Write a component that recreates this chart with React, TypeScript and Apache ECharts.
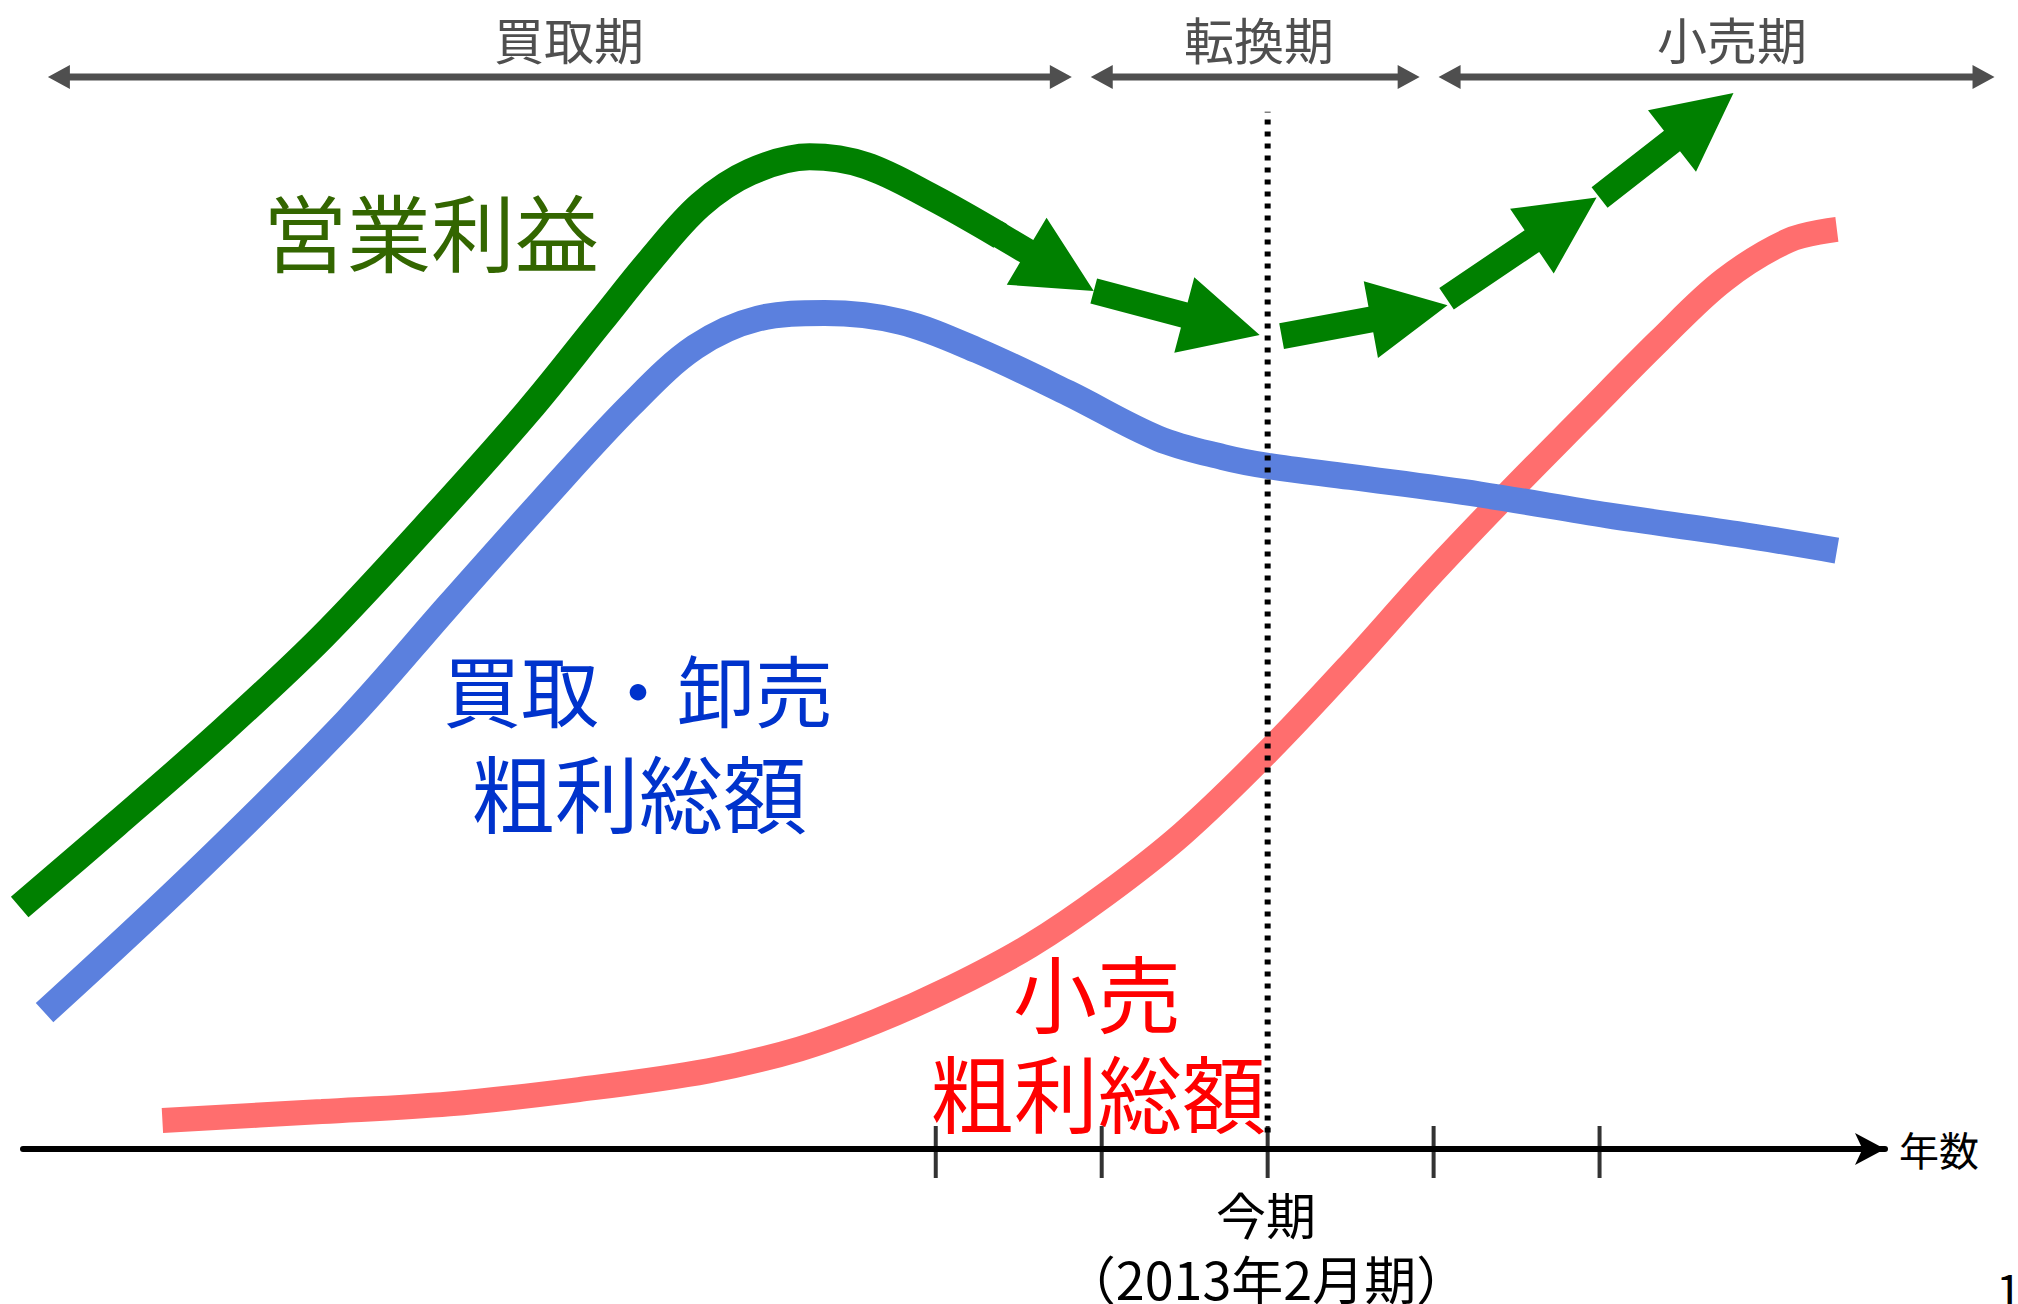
import React, { useEffect, useRef } from "react";
import * as echarts from "echarts";

// x: years relative to current term (今期 = 0), y: relative profit level (0-100)
const operatingProfit: number[][] = [
  [-7.52, 22.0], [-6.94, 29.5], [-6.32, 37.7], [-5.7, 46.5], [-5.08, 56.5],
  [-4.46, 67.0], [-4.02, 75.2], [-3.72, 80.8], [-3.42, 85.8], [-3.12, 88.8],
  [-2.76, 90.2], [-2.42, 89.4], [-2.02, 86.5], [-1.61, 83.0],
];
const wholesaleGross: number[][] = [
  [-7.37, 12.4], [-6.48, 24.9], [-5.55, 38.9], [-4.93, 49.5], [-4.38, 58.8],
  [-3.84, 67.6], [-3.45, 72.9], [-3.07, 75.5], [-2.67, 76.0], [-2.21, 75.2],
  [-1.75, 72.6], [-1.2, 68.7], [-0.66, 64.6], [-0.27, 62.9], [0, 62.1],
  [0.5, 61.1], [1.28, 59.5], [2.05, 57.6], [2.83, 55.9], [3.43, 54.4],
];
const retailGross: number[][] = [
  [-6.66, 2.6], [-5.7, 3.4], [-4.93, 4.1], [-4.15, 5.4], [-3.37, 7.1],
  [-2.82, 9.1], [-2.36, 11.6], [-1.9, 14.7], [-1.43, 18.5], [-0.98, 23.1],
  [-0.51, 28.7], [0, 36.1], [0.5, 44.1], [0.97, 52.0], [1.43, 59.3],
  [1.9, 66.5], [2.36, 73.5], [2.75, 79.0], [3.14, 82.6], [3.43, 83.6],
];
// trend arrows: [x start, y start, x tip, y tip]
const trendArrows: number[][] = [
  [-1.64, 83.3, -1.048, 78.0],
  [-1.048, 78.0, -0.048, 74.0],
  [0.084, 73.9, 1.084, 76.7],
  [1.078, 77.3, 1.982, 86.5],
  [2.0, 86.5, 2.807, 96.0],
];
// periods: [x start, x end, y]
const periodNames = ["買取期", "転換期", "小売期"];
const periodRanges: number[][] = [
  [-7.35, -1.18, 97.45],
  [-1.066, 0.916, 97.45],
  [1.03, 4.38, 97.45],
];
const tickYears = [-2, -1, 0, 1, 2];
const currentTerm = 0;
const dottedRange = [1.5, 94.3];

const FONT = "'Noto Sans CJK JP', 'Noto Sans', sans-serif";

function blockArrow(params: any, api: any) {
  const p1 = api.coord([api.value(0), api.value(1)]);
  const p2 = api.coord([api.value(2), api.value(3)]);
  const dx = p2[0] - p1[0];
  const dy = p2[1] - p1[1];
  const len = Math.hypot(dx, dy);
  const ux = dx / len;
  const uy = dy / len;
  const nx = -uy;
  const ny = ux;
  const L = 78, W = 78, S = 26;
  const bx = p2[0] - ux * L;
  const by = p2[1] - uy * L;
  const pts = [
    [p1[0] + (nx * S) / 2, p1[1] + (ny * S) / 2],
    [bx + (nx * S) / 2, by + (ny * S) / 2],
    [bx + (nx * W) / 2, by + (ny * W) / 2],
    [p2[0], p2[1]],
    [bx - (nx * W) / 2, by - (ny * W) / 2],
    [bx - (nx * S) / 2, by - (ny * S) / 2],
    [p1[0] - (nx * S) / 2, p1[1] - (ny * S) / 2],
  ];
  return { type: "polygon", shape: { points: pts }, style: { fill: "#008000" } };
}

function periodArrow(params: any, api: any) {
  const a = api.coord([api.value(0), api.value(2)]);
  const b = api.coord([api.value(1), api.value(2)]);
  const y = a[1];
  const H = 22, W = 24, S = 7;
  const pts = [
    [a[0], y], [a[0] + H, y - W / 2], [a[0] + H, y - S / 2], [b[0] - H, y - S / 2],
    [b[0] - H, y - W / 2], [b[0], y], [b[0] - H, y + W / 2], [b[0] - H, y + S / 2],
    [a[0] + H, y + S / 2], [a[0] + H, y + W / 2],
  ];
  return { type: "polygon", shape: { points: pts }, style: { fill: "#4f4f4f" } };
}

export default function App() {
  const ref = useRef<HTMLDivElement>(null);
  useEffect(() => {
    if (!ref.current) return;
    const chart = echarts.init(ref.current, undefined, { renderer: "svg" });
    const bigText = (text: string, x: number, y: number, color: string, size = 84) => ({
      type: "text",
      x,
      y,
      style: {
        text,
        fill: color,
        fontSize: size,
        fontFamily: FONT,
        align: "center",
        verticalAlign: "middle",
      },
    });
    const periodCenters = [569, 1259, 1732];
    chart.setOption({
      animation: false,
      backgroundColor: "#ffffff",
      textStyle: { fontFamily: FONT },
      grid: { left: 23, right: 133, top: 49, bottom: 155 },
      xAxis: {
        type: "value",
        min: -7.5,
        max: 3.72,
        name: "年数",
        nameLocation: "end",
        nameGap: 14,
        nameTextStyle: { fontSize: 40, color: "#000", fontFamily: FONT, verticalAlign: "middle" },
        axisLine: {
          show: true,
          onZero: false,
          symbol: ["none", "arrow"],
          symbolSize: [24, 30],
          lineStyle: { color: "#000", width: 6 },
        },
        axisTick: { show: false },
        axisLabel: { show: false },
        splitLine: { show: false },
      },
      yAxis: { type: "value", min: 0, max: 100, show: false },
      series: [
        {
          type: "line",
          data: retailGross,
          smooth: 0.35,
          symbol: "none",
          clip: false,
          lineStyle: { color: "#ff6e6e", width: 25, cap: "butt" },
          z: 2,
        },
        {
          type: "line",
          data: wholesaleGross,
          smooth: 0.35,
          symbol: "none",
          clip: false,
          lineStyle: { color: "#5b80de", width: 26, cap: "butt" },
          z: 2,
        },
        {
          type: "line",
          data: operatingProfit,
          smooth: 0.35,
          symbol: "none",
          clip: false,
          lineStyle: { color: "#008000", width: 27, cap: "butt" },
          z: 3,
        },
        {
          type: "custom",
          renderItem: blockArrow,
          data: trendArrows,
          encode: { x: [0, 2], y: [1, 3] },
          clip: false,
          z: 4,
        },
        {
          type: "custom",
          renderItem: periodArrow,
          data: periodRanges,
          encode: { x: [0, 1], y: 2 },
          clip: false,
          z: 4,
        },
        {
          type: "line",
          data: [[currentTerm, dottedRange[0]], [currentTerm, dottedRange[1]]],
          symbol: "none",
          clip: false,
          lineStyle: { color: "#000", width: 6, type: [5, 7], cap: "butt" },
          z: 6,
        },
        {
          type: "scatter",
          data: tickYears.map((t) => [t, 0]),
          symbol: "rect",
          symbolSize: [4, 52],
          symbolOffset: [0, 3],
          itemStyle: { color: "#000" },
          clip: false,
          z: 5,
        },
      ],
      graphic: [
        ...periodNames.map((n, i) => ({
          type: "text",
          x: periodCenters[i],
          y: 38,
          style: {
            text: n,
            fill: "#4f4f4f",
            fontSize: 50,
            fontFamily: FONT,
            align: "center",
            verticalAlign: "middle",
          },
        })),
        bigText("営業利益", 431, 229, "#336600"),
        bigText("買取・卸売", 638, 688, "#0033cc", 78),
        bigText("粗利総額", 639, 790, "#0033cc"),
        bigText("小売", 1097, 990, "#ff0000"),
        bigText("粗利総額", 1098, 1090, "#ff0000"),
        {
          type: "text",
          x: 1266,
          y: 1213,
          style: { text: "今期", fill: "#000", fontSize: 50, fontFamily: FONT, align: "center", verticalAlign: "middle" },
        },
        {
          type: "text",
          x: 1266,
          y: 1277,
          style: { text: "（2013年2月期）", fill: "#000", fontSize: 52, fontFamily: FONT, align: "center", verticalAlign: "middle" },
        },
        {
          type: "text",
          x: 1996,
          y: 1288,
          style: { text: "1", fill: "#000", fontSize: 46, fontFamily: FONT, align: "left", verticalAlign: "middle" },
        },
      ],
    });
    return () => chart.dispose();
  }, []);
  return (
    <div
      ref={ref}
      style={{ position: "fixed", left: 0, top: 0, width: 2018, height: 1304, background: "#fff" }}
    />
  );
}
